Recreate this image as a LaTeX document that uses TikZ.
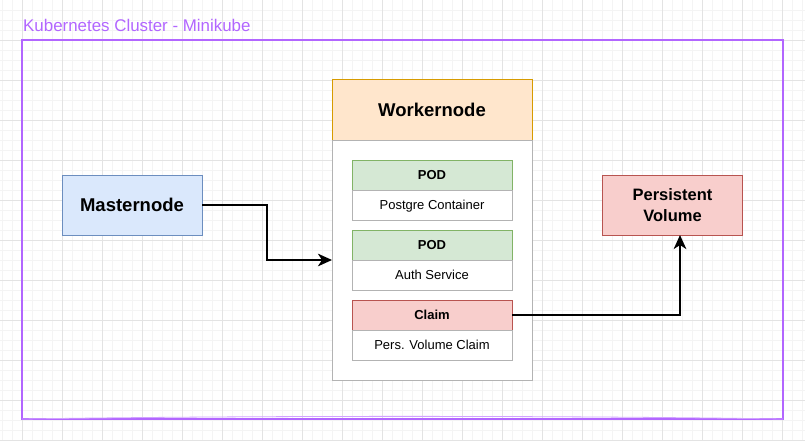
\documentclass[tikz,border=0pt]{standalone}
\usepackage{fontspec}
\setmainfont{Liberation Sans}
\usepackage{tikz}
\usetikzlibrary{arrows.meta,positioning,calc}
\usepackage{xcolor}
\definecolor{k8purple}{RGB}{178,102,255}
\definecolor{bluefill}{HTML}{DAE8FC}
\definecolor{bluedraw}{HTML}{6C8EBF}
\definecolor{orangefill}{HTML}{FFE6CC}
\definecolor{orangedraw}{HTML}{D79B00}
\definecolor{greenfill}{HTML}{D5E8D4}
\definecolor{greendraw}{HTML}{82B366}
\definecolor{redfill}{HTML}{F8CECC}
\definecolor{reddraw}{HTML}{B85450}
\definecolor{bodydraw}{HTML}{B3B3B3}
\definecolor{gridminor}{HTML}{F4F4F4}
\definecolor{gridmajor}{HTML}{E3E3E3}

\begin{document}
\begin{tikzpicture}[x=1pt, y=-1pt,
    nodebox/.style={rectangle, draw, line width=1pt, inner sep=0pt, outer sep=0pt,
        align=center, minimum width=140pt, minimum height=60pt},
    bigbold/.style={font=\fontsize{18.5}{22}\selectfont\bfseries},
    subhead/.style={rectangle, draw, line width=1pt, inner sep=0pt, outer sep=0pt,
        minimum width=160pt, minimum height=30pt, text depth=0pt,
        font=\fontsize{13}{15}\selectfont\bfseries},
    subbody/.style={rectangle, draw=bodydraw, fill=white, line width=1pt, inner sep=0pt,
        outer sep=0pt, minimum width=160pt, minimum height=30pt, text depth=0pt,
        font=\fontsize{13}{15}\selectfont},
    arr/.style={-{Stealth[length=14pt, width=12.5pt, inset=4pt]}, line width=2.8pt, black}
]
    % background grid
    \useasboundingbox (0,0) rectangle (805,441);
    \fill[white] (0,0) rectangle (805,441);
    \foreach \gx in {2.5,12.5,...,802.5} \draw[gridminor, line width=0.8pt] (\gx,0) -- (\gx,441);
    \foreach \gy in {10,20,...,440} \draw[gridminor, line width=0.8pt] (0,\gy) -- (805,\gy);
    \foreach \gx in {22.5,62.5,...,802.5} \draw[gridmajor, line width=0.8pt] (\gx,0) -- (\gx,441);
    \foreach \gy in {40,80,...,440} \draw[gridmajor, line width=0.8pt] (0,\gy) -- (805,\gy);

    % cluster frame
    \node[rectangle, draw=k8purple, line width=1.2pt, inner sep=0pt, outer sep=0pt,
        minimum width=761pt, minimum height=379pt] (cluster) at (402.5,229.5) {};
    \draw[k8purple!60, line width=0.8pt] (cluster.south west)
        .. controls (250,415.5) and (560,415.5) .. (cluster.south east);
    \node[anchor=base west, inner sep=0pt, text=k8purple,
        font=\fontsize{16.9}{20}\selectfont] (title) at (23,31.7) {Kubernetes Cluster - Minikube};

    % master
    \node[nodebox, bigbold, fill=bluefill, draw=bluedraw] (master) at (132,205) {Masternode};

    % worker
    \node[nodebox, bigbold, fill=orangefill, draw=orangedraw, minimum width=200pt] (wtitle) at (432,110) {Workernode};
    \node[rectangle, draw=bodydraw, fill=white, line width=1pt, inner sep=0pt, outer sep=0pt,
        minimum width=200pt, minimum height=240pt, below=0pt of wtitle] (wbody) {};
    \node[subhead, fill=greenfill, draw=greendraw] (pod1) at (432,175) {POD};
    \node[subbody, below=0pt of pod1] (pod1body) {Postgre Container};
    \node[subhead, fill=greenfill, draw=greendraw, below=10pt of pod1body] (pod2) {POD};
    \node[subbody, below=0pt of pod2] (pod2body) {Auth Service};
    \node[subhead, fill=redfill, draw=reddraw, below=10pt of pod2body] (claim) {Claim};
    \node[subbody, below=0pt of claim] (claimbody) {Pers. Volume Claim};

    % volume
    \node[nodebox, fill=redfill, draw=reddraw, font=\fontsize{16.5}{21}\selectfont\bfseries] (pv) at (672.5,205) {Persistent\\Volume};

    \draw[arr] (master.east) -- ++(65,0) |- (wbody.west);
    \draw[arr] (claim.east) -| ([xshift=7.5pt]pv.south);
\end{tikzpicture}
\end{document}
